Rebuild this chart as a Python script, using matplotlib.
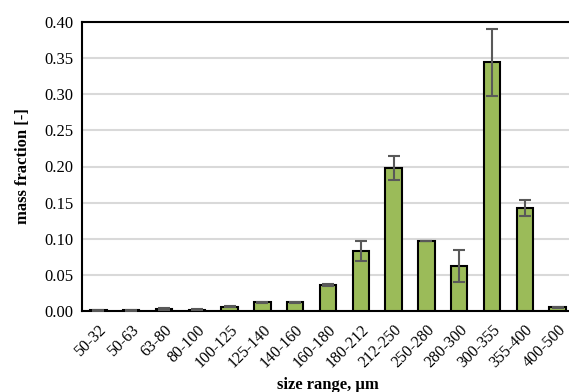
import matplotlib
matplotlib.use("Agg")
import matplotlib.pyplot as plt
import numpy as np

categories = ["50-32", "50-63", "63-80", "80-100", "100-125", "125-140", "140-160",
              "160-180", "180-212", "212-250", "250-280", "280-300", "300-355",
              "355-400", "400-500"]
values = [0.001, 0.001, 0.003, 0.002, 0.006, 0.012, 0.012, 0.036, 0.083, 0.198,
          0.097, 0.062, 0.344, 0.142, 0.005]
errors = [0.0005, 0.0005, 0.001, 0.001, 0.001, 0.001, 0.001, 0.002, 0.014, 0.017,
          0.0005, 0.022, 0.046, 0.011, 0.0005]

plt.rcParams['font.family'] = ['Liberation Serif', 'DejaVu Serif']

fig = plt.figure(figsize=(5.69, 3.92), dpi=100)
ax = fig.add_axes([82/569, 1 - 311/392, 492/569, 289/392])

x = np.arange(len(categories))
ax.bar(x, values, width=0.5, color="#9bbb59", edgecolor="black", linewidth=1.5, zorder=3)
ax.errorbar(x, values, yerr=errors, fmt="none", ecolor="#595959", elinewidth=1.5,
            capsize=4, capthick=1.5, zorder=4)

ax.set_xlim(-0.5, len(categories) - 0.5)
ax.set_ylim(0, 0.40)
ax.set_yticks(np.arange(0, 0.401, 0.05))
ax.set_yticklabels([f"{v:.2f}" for v in np.arange(0, 0.401, 0.05)], fontsize=12)
ax.set_xticks(x)
ax.set_xticklabels(categories, rotation=45, ha="right", rotation_mode="anchor", fontsize=11.5)
ax.tick_params(axis="y", length=0, pad=6)
ax.tick_params(axis="x", length=0, pad=8)
ax.yaxis.grid(True, color="#d9d9d9", linewidth=1.5, zorder=0)
ax.set_axisbelow(True)
for s in ["left", "bottom", "top", "right"]:
    ax.spines[s].set_linewidth(1.5)
    ax.spines[s].set_color("black")

ax.set_ylabel("mass fraction [-]", fontsize=12, fontweight="bold", labelpad=10)
ax.set_xlabel("size range, µm", fontsize=12, fontweight="bold", labelpad=4)

fig.savefig("out.png", dpi=100)
